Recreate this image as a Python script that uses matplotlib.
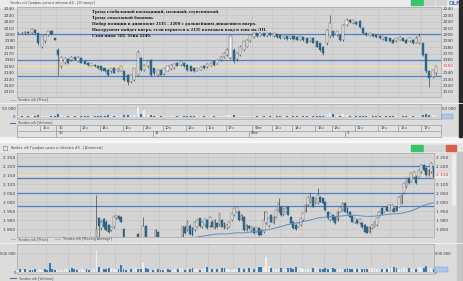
import numpy as np
import pandas as pd
import matplotlib
matplotlib.use('Agg')
import matplotlib.pyplot as plt
from matplotlib.patches import Rectangle

W, H = 463, 281

# ---------------- top window: 15 min ----------------
top_open = [2202, 2203, 2202, 2204, 2202, 2207, 2202, 2181, 2189, 2199,
            2206, 2194, 2176, 2150, 2155, 2161, 2160, 2164, 2158, 2163,
            2158, 2156, 2151, 2152, 2151, 2150, 2147, 2145, 2142, 2147,
            2142, 2143, 2142, 2137, 2126, 2129, 2137, 2163, 2145, 2150,
            2160, 2147, 2137, 2145, 2138, 2143, 2146, 2147, 2156, 2152,
            2156, 2152, 2150, 2147, 2143, 2145, 2151, 2149, 2151, 2158,
            2154, 2160, 2164, 2168, 2163, 2176, 2161, 2168, 2176, 2181,
            2189, 2196, 2202, 2198, 2202, 2197, 2203, 2197, 2200, 2199,
            2194, 2197, 2194, 2198, 2196, 2192, 2196, 2194, 2189, 2194,
            2189, 2186, 2181, 2186, 2197, 2205, 2199, 2199, 2192, 2215,
            2223, 2218, 2220, 2221, 2210, 2203, 2198, 2200, 2199, 2198,
            2193, 2196, 2194, 2192, 2189, 2192, 2194, 2192, 2189, 2192,
            2187, 2186, 2186, 2170, 2142, 2134, 2139]
top_high = [2204, 2204, 2205, 2205, 2210, 2209, 2203, 2198, 2200, 2206,
            2207, 2195, 2178, 2167, 2164, 2163, 2166, 2165, 2166, 2164,
            2159, 2157, 2156, 2154, 2152, 2151, 2148, 2146, 2148, 2149,
            2147, 2151, 2143, 2138, 2138, 2148, 2176, 2165, 2154, 2159,
            2161, 2148, 2146, 2146, 2148, 2152, 2154, 2155, 2157, 2159,
            2157, 2153, 2151, 2148, 2148, 2150, 2152, 2155, 2157, 2159,
            2162, 2167, 2172, 2178, 2199, 2178, 2172, 2183, 2190, 2193,
            2201, 2203, 2203, 2204, 2203, 2203, 2204, 2203, 2201, 2200,
            2199, 2198, 2200, 2199, 2197, 2198, 2197, 2195, 2195, 2196,
            2190, 2187, 2182, 2208, 2231, 2206, 2206, 2200, 2217, 2225,
            2224, 2223, 2221, 2222, 2211, 2204, 2203, 2201, 2200, 2199,
            2198, 2197, 2195, 2193, 2195, 2198, 2195, 2193, 2195, 2193,
            2197, 2202, 2187, 2171, 2143, 2145, 2151]
top_low = [2201, 2201, 2201, 2201, 2201, 2200, 2184, 2179, 2187, 2198,
           2199, 2191, 2137, 2147, 2153, 2153, 2159, 2160, 2157, 2155,
           2153, 2151, 2150, 2149, 2146, 2143, 2141, 2135, 2140, 2139,
           2141, 2142, 2127, 2121, 2124, 2127, 2135, 2143, 2143, 2148,
           2135, 2137, 2135, 2136, 2137, 2142, 2145, 2146, 2150, 2151,
           2149, 2143, 2142, 2141, 2142, 2144, 2146, 2148, 2150, 2151,
           2153, 2159, 2163, 2167, 2161, 2156, 2159, 2167, 2174, 2180,
           2188, 2195, 2196, 2197, 2197, 2196, 2198, 2196, 2195, 2193,
           2193, 2192, 2193, 2192, 2191, 2191, 2190, 2186, 2188, 2186,
           2180, 2174, 2168, 2184, 2195, 2196, 2197, 2190, 2190, 2214,
           2218, 2217, 2215, 2210, 2200, 2198, 2197, 2196, 2195, 2193,
           2192, 2189, 2188, 2186, 2188, 2191, 2189, 2186, 2188, 2185,
           2186, 2185, 2166, 2140, 2117, 2132, 2137]
top_close = [2203, 2202, 2204, 2202, 2208, 2202, 2186, 2197, 2199, 2205,
             2200, 2192, 2168, 2165, 2163, 2155, 2164, 2161, 2164, 2156,
             2154, 2152, 2155, 2150, 2147, 2145, 2142, 2137, 2147, 2140,
             2146, 2150, 2129, 2125, 2137, 2147, 2173, 2145, 2152, 2158,
             2137, 2139, 2145, 2137, 2147, 2151, 2152, 2154, 2151, 2158,
             2151, 2145, 2143, 2142, 2147, 2149, 2147, 2154, 2156, 2152,
             2160, 2165, 2171, 2176, 2197, 2158, 2171, 2181, 2189, 2191,
             2199, 2202, 2197, 2203, 2198, 2202, 2199, 2202, 2196, 2194,
             2198, 2193, 2199, 2193, 2192, 2197, 2192, 2187, 2194, 2187,
             2181, 2176, 2171, 2207, 2218, 2198, 2205, 2192, 2215, 2223,
             2219, 2222, 2217, 2211, 2202, 2199, 2202, 2197, 2196, 2194,
             2197, 2190, 2189, 2187, 2194, 2196, 2190, 2187, 2194, 2186,
             2195, 2197, 2168, 2142, 2131, 2144, 2150]
top_vol = [6000, 3000, 4000, 3000, 8000, 5000, 9000, 7000, 5000, 6000,
           4000, 3000, 15000, 9000, 5000, 4000, 3000, 3000, 4000, 5000,
           4000, 3000, 3000, 4000, 5000, 6000, 5000, 8000, 4000, 5000,
           3000, 4000, 9000, 10000, 7000, 8000, 55000, 14000, 38000, 9000,
           12000, 6000, 5000, 4000, 5000, 4000, 3000, 4000, 3000, 5000,
           4000, 6000, 5000, 4000, 3000, 3000, 4000, 3000, 4000, 3000,
           5000, 6000, 7000, 8000, 12000, 9000, 6000, 7000, 6000, 5000,
           6000, 4000, 3000, 3000, 2000, 3000, 2000, 3000, 3000, 2000,
           3000, 2000, 3000, 3000, 2000, 3000, 3000, 4000, 3000, 4000,
           5000, 6000, 7000, 12000, 20000, 16000, 8000, 6000, 14000, 9000,
           5000, 4000, 3000, 6000, 7000, 4000, 3000, 3000, 2000, 3000,
           3000, 4000, 3000, 3000, 4000, 3000, 3000, 4000, 3000, 4000,
           5000, 7000, 10000, 14000, 12000, 8000, 6000]
top_blue_levels = [2200, 2160, 2135.5]
top_yellow_level = 2150
top_last = 2150
top_yticks = list(range(2110, 2250, 10))
top_grid = [6.5, 11.5, 18.5, 24.5, 31.5, 37.5, 43.5, 50.5, 56.5, 62.5,
            70.5, 76.5, 82.5, 89.5, 94.5, 101.5, 108.5, 114.5, 121.5]
top_hour_labels = ['15ч', '30', '12ч', '14ч', '16ч', '18ч', '10ч', '12ч', '15ч', '17ч',
                   'Фев', '12ч', '14ч', '16ч', '18ч', '11ч', '13ч', '15ч', '17ч']
top_day_ticks = [11.5, 40.5, 69.5, 98.5]
top_day_labels = ['30', '31', 'Фев', '3']
notes = ['Тренд глобальный восходящий, сильный, ступенчатый.',
         'Тренд локальный боковик.',
         'Набор позиции в диапазоне 2135 - 2200 с дальнейшим движением вверх.',
         'Инструмент пойдет вверх, если вернется к 2135 возможен вход в зоне на ЛП.',
         'Стоп ниже ЛП. Тейк 2240.']

# ---------------- bottom window: daily ----------------
bot_open = [1760, 1772, 1768, 1780, 1775, 1790, 1784, 1770, 1765, 1778,
            1786, 1795, 1788, 1779, 1770, 1762, 1758, 1766, 1775, 1783,
            1790, 1798, 1792, 1785, 1778, 1772, 1780, 1788, 1795, 1790,
            1784, 1792,
            1800, 1911, 1856, 1906, 1893, 1874, 1848, 1861, 1913, 1924,
            1917, 1850, 1770, 1750, 1760, 1745, 1755, 1824, 1770, 1800,
            1868, 1765, 1755, 1762, 1795, 1837, 1770, 1755, 1745, 1755,
            1750, 1735, 1750, 1760, 1755, 1805, 1865, 1846, 1868, 1856,
            1846, 1865, 1911, 1865, 1874, 1902, 1868, 1893, 1856, 1887,
            1874, 1902, 1883, 1856, 1865, 1902, 1930, 1948, 1948, 1902,
            1920, 1846, 1868, 1840, 1856, 1837, 1856, 1846, 1837, 1883,
            1868, 1930, 1887, 1920, 1948, 1976, 1930, 1948, 1976, 1920,
            1893, 1874, 1865, 1874, 1902, 1948, 1985, 2000, 2031, 1994,
            1994, 2031, 2022, 2004, 1948, 1902, 1930, 1920, 1902, 1948,
            1957, 1994, 1967, 1948, 1924, 1887, 1902, 1883, 1883, 1874,
            1861, 1837, 1856, 1865, 1874, 1920, 1967, 1948, 1976, 1954,
            1957, 1967, 1976, 1976, 1994, 2050, 2087, 2133, 2115, 2143,
            2143, 2143, 2170, 2207, 2189, 2152, 2170, 2198]
bot_high = [1778, 1776, 1784, 1784, 1795, 1792, 1788, 1774, 1782, 1790,
            1800, 1799, 1792, 1783, 1774, 1766, 1770, 1779, 1788, 1795,
            1803, 1802, 1796, 1790, 1782, 1785, 1792, 1800, 1799, 1794,
            1796, 1806,
            2041, 1920, 1900, 1912, 1900, 1880, 1865, 1926, 1928, 1930,
            1922, 1855, 1775, 1765, 1770, 1760, 1800, 1830, 1790, 1917,
            1875, 1770, 1765, 1800, 1852, 1840, 1775, 1762, 1758, 1765,
            1758, 1755, 1765, 1770, 1808, 1870, 1872, 1900, 1880, 1862,
            1898, 1906, 1915, 1897, 1910, 1908, 1925, 1900, 1905, 1892,
            1943, 1908, 1890, 1878, 1897, 1942, 1970, 1980, 1955, 1934,
            1926, 1878, 1872, 1870, 1860, 1864, 1860, 1850, 1954, 1950,
            1915, 1935, 1922, 1960, 2022, 1982, 1970, 1972, 1980, 1925,
            1898, 1878, 1890, 1915, 1942, 1990, 2035, 2054, 2036, 2025,
            2078, 2036, 2026, 2008, 1952, 1942, 1934, 1925, 1952, 1980,
            2004, 1998, 1972, 1952, 1928, 1915, 1906, 1910, 1888, 1878,
            1866, 1868, 1878, 1897, 1915, 1952, 1972, 1980, 1980, 1990,
            1990, 1972, 1980, 2035, 2045, 2110, 2138, 2138, 2165, 2175,
            2150, 2185, 2212, 2212, 2195, 2185, 2226, 2205]
bot_low = [1755, 1764, 1763, 1771, 1770, 1780, 1766, 1760, 1761, 1774,
           1782, 1784, 1775, 1766, 1757, 1753, 1754, 1762, 1771, 1779,
           1786, 1788, 1781, 1773, 1768, 1768, 1776, 1784, 1786, 1780,
           1779, 1788,
           1790, 1800, 1845, 1850, 1840, 1830, 1840, 1855, 1908, 1900,
           1888, 1760, 1740, 1735, 1740, 1735, 1745, 1760, 1755, 1790,
           1750, 1745, 1740, 1750, 1750, 1760, 1745, 1735, 1730, 1740,
           1735, 1725, 1740, 1745, 1750, 1795, 1822, 1840, 1820, 1815,
           1840, 1860, 1862, 1858, 1870, 1850, 1862, 1860, 1852, 1858,
           1868, 1860, 1852, 1850, 1860, 1898, 1925, 1945, 1898, 1897,
           1842, 1842, 1852, 1835, 1825, 1833, 1815, 1816, 1830, 1878,
           1862, 1888, 1882, 1915, 1945, 1926, 1926, 1944, 1928, 1880,
           1852, 1848, 1860, 1870, 1898, 1944, 1980, 1995, 1972, 1990,
           1990, 2000, 1990, 1952, 1906, 1898, 1898, 1880, 1898, 1944,
           1952, 1944, 1935, 1918, 1888, 1883, 1880, 1878, 1858, 1834,
           1828, 1832, 1852, 1860, 1870, 1916, 1932, 1944, 1950, 1950,
           1952, 1945, 1950, 1972, 1990, 2045, 2082, 2100, 2110, 2138,
           2100, 2138, 2165, 2175, 2148, 2148, 2165, 2124]
bot_close = [1772, 1768, 1780, 1775, 1790, 1784, 1770, 1765, 1778, 1786,
             1795, 1788, 1779, 1770, 1762, 1758, 1766, 1775, 1783, 1790,
             1798, 1792, 1785, 1778, 1772, 1780, 1788, 1795, 1790, 1784,
             1792, 1800,
             1850, 1868, 1893, 1861, 1846, 1837, 1861, 1924, 1924, 1906,
             1893, 1770, 1750, 1760, 1745, 1755, 1790, 1770, 1760, 1868,
             1765, 1755, 1762, 1750, 1848, 1770, 1755, 1745, 1755, 1750,
             1735, 1750, 1760, 1755, 1770, 1868, 1828, 1893, 1824, 1818,
             1893, 1902, 1868, 1893, 1906, 1856, 1920, 1865, 1902, 1861,
             1939, 1865, 1856, 1874, 1893, 1939, 1967, 1976, 1902, 1930,
             1846, 1874, 1856, 1868, 1828, 1861, 1818, 1820, 1902, 1948,
             1911, 1893, 1920, 1957, 1994, 1930, 1967, 1967, 1930, 1883,
             1856, 1850, 1887, 1911, 1939, 1985, 2031, 2030, 1976, 2022,
             2041, 2004, 1994, 1957, 1911, 1939, 1902, 1883, 1948, 1976,
             1994, 1948, 1939, 1920, 1893, 1911, 1883, 1906, 1861, 1837,
             1831, 1865, 1874, 1893, 1911, 1948, 1935, 1976, 1954, 1985,
             1985, 1948, 1954, 2031, 2041, 2106, 2133, 2106, 2161, 2170,
             2106, 2180, 2207, 2180, 2152, 2180, 2217, 2143]
bot_vol_k = [60, 80, 70, 90, 60, 50, 70, 85, 60, 75,
             65, 90, 70, 240, 80, 60, 55, 70, 65, 80,
             75, 70, 100, 85, 60, 70, 90, 65, 80, 70,
             60, 85, 600, 140, 110, 90, 80, 120, 100, 75,
             90, 85, 180, 95, 70, 60, 80, 75, 100, 90,
             85, 240, 120, 90, 70, 65, 80, 75, 60, 70,
             85, 90, 70, 65, 80, 95, 110, 85, 70, 100,
             90, 120, 95, 80, 70, 85, 110, 130, 90, 80,
             75, 90, 85, 100, 120, 95, 80, 70, 90, 85,
             100, 110, 90, 80, 120, 95, 85, 100, 140, 150,
             130, 395, 160, 120, 100, 90, 85, 110, 95, 90,
             120, 100, 90, 140, 110, 100, 90, 85, 95, 80,
             100, 130, 90, 85, 80, 110, 95, 90, 100, 85,
             80, 90, 95, 85, 100, 90, 80, 85, 90, 75,
             85, 90, 95, 110, 120, 100, 85, 90, 80, 85,
             95, 110, 120, 130, 100, 90, 85, 140, 120, 100,
             110, 95, 90, 130, 120, 105, 160, 100, 110, 90]
bot_blue_levels = [2202, 2135, 2052, 1980]
bot_yellow_level = 2150
bot_last = 2150
bot_yticks = list(range(1850, 2300, 50))
bot_grid = [11.5, 20.5, 29.5, 39.5, 49.5, 57.5, 68.5, 77.5, 87.5, 96.5,
            106.5, 115.5, 124.5, 133.5, 143.5, 151.5, 160.5]
ma_window = 50

BLUE_LINE = '#4a7fc0'
YELLOW_LINE = '#ece3a6'
UP_FACE = '#f4f4f4'
DN_FACE = '#2d6b92'
PLOT_BG = '#d4d4d4'
GRID = '#c2c2c2'

fig = plt.figure(figsize=(W / 100, H / 100), dpi=100)
fig.patch.set_facecolor('#dcdcdc')


def px_axes(x0, y0, x1, y1):
    return fig.add_axes([x0 / W, 1 - y1 / H, (x1 - x0) / W, (y1 - y0) / H])


def ptext(x, y, s, **kw):
    fig.text(x / W, 1 - y / H, s, **kw)


def style(ax):
    ax.set_facecolor(PLOT_BG)
    for s in ax.spines.values():
        s.set_color('#a6a6a6')
        s.set_linewidth(0.5)
    ax.tick_params(length=0, labelsize=3.1, colors='#383838', pad=1.4)
    ax.set_zorder(1)


def candles(ax, o, h, l, c, width, min_body):
    o, h, l, c = (np.asarray(v, dtype=float) for v in (o, h, l, c))
    x = np.arange(len(o))
    up = c >= o
    ax.vlines(x, l, h, color='#3a3a3a', lw=0.45, zorder=2)
    lo = np.minimum(o, c)
    hh = np.maximum(np.abs(c - o), min_body)
    ax.bar(x[up], hh[up], width, bottom=lo[up], color=UP_FACE,
           edgecolor='#4a4a4a', lw=0.3, zorder=3)
    ax.bar(x[~up], hh[~up], width, bottom=lo[~up], color=DN_FACE,
           edgecolor='#24577a', lw=0.3, zorder=3)
    return up


def vol_bars(ax, v, up, width):
    v = np.asarray(v, dtype=float)
    x = np.arange(len(v))
    ax.bar(x[up], v[up], width, color='#eeeeee', lw=0, zorder=3)
    ax.bar(x[~up], v[~up], width, color='#3b78b0', lw=0, zorder=3)


def spaced(v):
    return f'{v:,}'.replace(',', ' ')


# background decoration (pixel coordinates)
bg = px_axes(0, 0, W, H)
bg.set_xlim(0, W)
bg.set_ylim(H, 0)
bg.axis('off')
bg.set_zorder(0)
bg.add_patch(Rectangle((0, 0), W, 6.5, color='#ebebeb'))
bg.add_patch(Rectangle((0, 136.5), W, 4.5, color='#f3f3f3'))
bg.add_patch(Rectangle((0, 141), W, 11, color='#e6e6e6'))
bg.add_patch(Rectangle((0, 141), W, 1, color='#f8f8f8'))
bg.add_patch(Rectangle((459, 0), 4, 137, color='#2a2a2a'))
bg.add_patch(Rectangle((457, 152), 6, 129, color='#c4c4c4'))
bg.add_patch(Rectangle((452, 154), 3, 50, color='#ececec'))
# title bar buttons
for x0, x1, col in [(411, 423, '#3cc46a'), (424, 434, '#d2d2d2'), (436, 446, '#d2d2d2')]:
    bg.add_patch(Rectangle((x0, 0), x1 - x0, 5, color=col))
for x0, x1, col in [(411, 423, '#3cc46a'), (424, 434, '#d6d6d6'),
                    (435, 445, '#d6d6d6'), (446, 456, '#d9604a')]:
    bg.add_patch(Rectangle((x0, 145), x1 - x0, 5.5, color=col))
bg.add_patch(Rectangle((3, 145.5), 4, 4, fill=False, ec='#777777', lw=0.4))
# legend keys
bg.plot([10, 15], [99.5, 99.5], color='#e8a0a0', lw=0.7)
bg.plot([10, 15], [122.7, 122.7], color='#3b78b0', lw=0.8)
bg.plot([11, 15], [239, 239], color='#e8a0a0', lw=0.7)
bg.plot([55, 60], [239, 239], color='#9cb8d8', lw=0.8)
bg.plot([10, 16], [278, 278], color='#3b78b0', lw=0.8)
bg.plot([0, W], [103, 103], color='#f4f4f4', lw=0.6)
bg.plot([0, W], [243, 243], color='#f4f4f4', lw=0.6)

tc = '#4a4a4a'
ptext(10, 3.2, 'Yandex n/k График цены и объема #4 - [15 минут]', fontsize=2.3,
      color=tc, va='center')
ptext(449, 3.5, 'OLF', fontsize=4, color='#3b6fd0', va='center', weight='bold')
ptext(10, 147.8, 'Yandex n/k График цены и объема #5 - [Дневной]', fontsize=2.5,
      color=tc, va='center')
ptext(18, 99.5, 'Yandex n/k [Price]', fontsize=2.4, color=tc, va='center')
ptext(18, 122.7, 'Yandex n/k [Volume]', fontsize=2.4, color=tc, va='center')
ptext(18, 239, 'Yandex n/k [Price]', fontsize=2.4, color=tc, va='center')
ptext(63, 239, 'Yandex n/k [Moving Average]', fontsize=2.4, color=tc, va='center')
ptext(19, 278, 'Yandex n/k [Volume]', fontsize=2.4, color=tc, va='center')

# ---- top price ----
ax1 = px_axes(17, 7, 441, 97)
style(ax1)
up_top = candles(ax1, top_open, top_high, top_low, top_close, 0.62, 0.8)
for lv in top_blue_levels:
    ax1.axhline(lv, color=BLUE_LINE, lw=0.9, zorder=1.5)
ax1.axhline(top_yellow_level, color=YELLOW_LINE, lw=0.9, zorder=1.5)
ax1.set_xlim(-0.4, 127.5)
ax1.set_ylim(2102, 2243)
ax1.set_yticks(top_yticks)
ax1.set_yticklabels([str(v) for v in top_yticks])
ax1.set_xticks(top_grid)
ax1.tick_params(labelleft=True, labelright=True, labelbottom=False)
ax1.grid(True, color=GRID, lw=0.4, zorder=0)
ax1.set_axisbelow(True)
ax1.text(1.003, top_last, str(top_last), transform=ax1.get_yaxis_transform(),
         fontsize=3.1, color='#d03030', va='center', ha='left',
         bbox=dict(boxstyle='square,pad=0.15', fc='#f4eaea', ec='none'))

# ---- top volume ----
ax2 = px_axes(17, 104, 441, 119)
style(ax2)
vol_bars(ax2, top_vol, up_top, 0.6)
ax2.set_xlim(-0.4, 127.5)
ax2.set_ylim(-13000, 73000)
ax2.set_yticks([0, 50000])
ax2.set_yticklabels(['0', '50 000'])
ax2.set_xticks(top_grid)
ax2.tick_params(labelleft=True, labelright=True, labelbottom=False, labelsize=2.9, pad=1.0)
ax2.grid(True, color=GRID, lw=0.4)
ax2.set_axisbelow(True)
ax2.text(1.004, 0, '         ', transform=ax2.get_yaxis_transform(), fontsize=2.6,
         va='center', ha='left', bbox=dict(boxstyle='square,pad=0.1', fc='#a9c8ea', ec='#6f98c8', lw=0.3))

# ---- top time axis ----
ax3 = px_axes(17, 124.5, 441, 136.5)
ax3.set_facecolor('#e2e2e2')
ax3.set_zorder(1)
for s in ax3.spines.values():
    s.set_color('#9a9a9a')
    s.set_linewidth(0.5)
ax3.set_xlim(-0.4, 127.5)
ax3.set_ylim(0, 2)
ax3.set_xticks([])
ax3.set_yticks([])
ax3.axhline(1, color='#9a9a9a', lw=0.5)
ax3.vlines(top_grid, 1, 2, color='#8a8a8a', lw=0.45)
ax3.vlines(top_day_ticks, 0, 1, color='#8a8a8a', lw=0.45)
for xt, lab in zip(top_grid, top_hour_labels):
    ax3.text(xt + 0.7, 1.5, lab, fontsize=2.6, color='#333333', va='center', ha='left')
for xt, lab in zip(top_day_ticks, top_day_labels):
    ax3.text(xt + 0.7, 0.5, lab, fontsize=2.6, color='#333333', va='center', ha='left')

for i, line in enumerate(notes):
    ptext(92, 11.5 + i * 6.1, line, fontsize=3.6, family='Liberation Serif',
          weight='bold', color='#111111', va='center', zorder=5)

# ---- bottom price ----
ax4 = px_axes(17, 153, 434, 237)
style(ax4)
up_bot = candles(ax4, bot_open, bot_high, bot_low, bot_close, 0.72, 3)
ma = pd.Series(bot_close, dtype=float).rolling(ma_window).mean()
ax4.plot(np.arange(len(ma)), ma.values, color='#5b8fc4', lw=0.7, zorder=4)
for lv in bot_blue_levels:
    ax4.axhline(lv, color=BLUE_LINE, lw=0.9, zorder=1.5)
ax4.axhline(bot_yellow_level, color=YELLOW_LINE, lw=0.9, zorder=1.5)
ax4.set_xlim(-0.3, 169.2)
ax4.set_ylim(1807, 2274)
ax4.set_yticks(bot_yticks)
ax4.set_yticklabels([spaced(v) for v in bot_yticks])
ax4.set_xticks(bot_grid)
ax4.tick_params(labelleft=True, labelright=True, labelbottom=False)
ax4.grid(True, color=GRID, lw=0.4)
ax4.set_axisbelow(True)
ax4.text(1.004, bot_last, spaced(bot_last), transform=ax4.get_yaxis_transform(),
         fontsize=3.1, color='#d03030', va='center', ha='left',
         bbox=dict(boxstyle='square,pad=0.15', fc='#f4eaea', ec='none'))

# ---- bottom volume ----
ax5 = px_axes(17, 244, 434, 274)
style(ax5)
vol_bars(ax5, np.asarray(bot_vol_k) * 1000, up_bot, 0.7)
ax5.set_xlim(-0.3, 169.2)
ax5.set_ylim(-45000, 745000)
ax5.set_yticks([0, 500000])
ax5.set_yticklabels(['0', '500 000'])
ax5.set_xticks(bot_grid)
ax5.tick_params(labelleft=True, labelright=True, labelbottom=False, labelsize=2.7, pad=0.8)
ax5.grid(True, color=GRID, lw=0.4)
ax5.set_axisbelow(True)
ax5.text(1.004, 0.15, '           ', transform=ax5.transAxes, fontsize=2.6,
         va='center', ha='left', bbox=dict(boxstyle='square,pad=0.1', fc='#a9c8ea', ec='#6f98c8', lw=0.3))

fig.savefig('out.png', dpi=100, facecolor=fig.get_facecolor())
